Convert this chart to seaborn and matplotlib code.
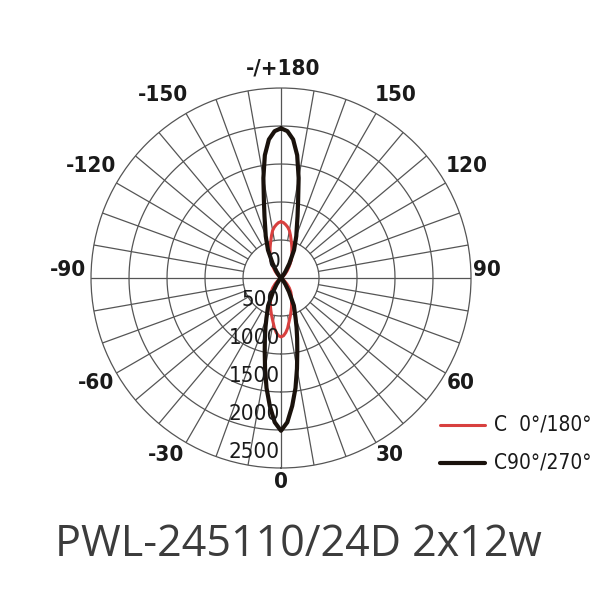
import numpy as np
import pandas as pd
import matplotlib
matplotlib.use('Agg')
import matplotlib.pyplot as plt
from matplotlib.lines import Line2D
import seaborn as sns

# gamma angle (deg) away from the lobe axis
gamma = [0, 2.5, 5, 7.5, 10, 12.5, 15, 17.5, 20, 25, 30, 35, 40, 45, 50, 55, 60]
# lobe around 0 deg (downwards) and around 180 deg (upwards), cd
c0_down = [775, 760, 720, 665, 595, 540, 490, 445, 405, 330, 275, 225, 170, 110, 60, 25, 0]
c0_up = [740, 730, 705, 675, 635, 575, 515, 465, 420, 340, 270, 190, 130, 80, 40, 10, 0]
c90_down = [2010, 1900, 1690, 1460, 1210, 990, 820, 680, 560, 400, 210, 100, 40, 10, 0, 0, 0]
c90_up = [1970, 1934, 1830, 1630, 1336, 1040, 840, 690, 588, 406, 220, 100, 40, 10, 0, 0, 0]

series_names = ['C  0°/180°', 'C90°/270°']
series_colors = ['#d8403f', '#1a120c']
ring_values = [500, 1000, 1500, 2000, 2500]
radial_labels = ['0', '500', '1000', '1500', '2000', '2500']
angle_labels = ['0', '30', '60', '90', '120', '150', '-/+180',
                '-150', '-120', '-90', '-60', '-30']
# label centres, pixels from the pole
angle_label_pos = [(0, -204), (109, -177), (180, -105), (206, 8), (186, 112),
                   (115, 183), (2, 210), (-118, 183), (-190, 112), (-213, 8),
                   (-185, -105), (-115, -177)]
title = 'PWL-245110/24D 2x12w'


def full_curve(down, up):
    # build -180..180 sequence from the two symmetric lobes
    d = {round(g * 2): v for g, v in zip(gamma, down)}
    u = {round(g * 2): v for g, v in zip(gamma, up)}
    angs = sorted({s * g for g in gamma for s in (1, -1)} |
                  {s * (180 - g) for g in gamma for s in (1, -1)})
    vals = []
    for a in angs:
        v = 0
        k_down = round(abs(a) * 2)
        k_up = round((180 - abs(a)) * 2)
        if k_down in d:
            v = max(v, d[k_down])
        if k_up in u:
            v = max(v, u[k_up])
        vals.append(v)
    return angs, vals


rows = []
for name, (dn, up) in zip(series_names, [(c0_down, c0_up), (c90_down, c90_up)]):
    angs, vals = full_curve(dn, up)
    for a, v in zip(angs, vals):
        rows.append({'theta': np.deg2rad(a), 'cd': v, 'series': name})
df = pd.DataFrame(rows)

sns.set_style('white')
narrow = dict(family='DejaVu Sans', stretch='condensed')

fig = plt.figure(figsize=(6, 6), dpi=100)
ax = fig.add_axes([0.1517, 0.22, 0.6333, 0.6333], projection='polar')
ax.set_theta_zero_location('S')
ax.set_theta_direction(1)
ax.set_ylim(0, 2500)
ax.set_xticks([])
ax.set_yticks([])
ax.grid(False)
ax.spines['polar'].set_color('#555555')
ax.spines['polar'].set_linewidth(0.9)

grid_c = '#555555'
circ = np.linspace(0, 2 * np.pi, 361)
for rv in ring_values[:-1]:
    ax.plot(circ, [rv] * len(circ), color=grid_c, lw=0.9, zorder=1)
for deg in range(0, 360, 10):
    r0 = 0 if deg % 90 == 0 else ring_values[0]
    ax.plot([np.deg2rad(deg)] * 2, [r0, 2500], color=grid_c, lw=0.9, zorder=1)

sns.lineplot(data=df, x='theta', y='cd', hue='series', units='series',
             estimator=None, sort=False, palette=series_colors,
             hue_order=series_names, legend=False, ax=ax, zorder=3)
for line, lw in zip(ax.get_lines()[-2:], [2.2, 3.0]):
    line.set_linewidth(lw)
ax.set_xlabel('')
ax.set_ylabel('')

# radial value labels
for i, lab in enumerate(radial_labels):
    ax.annotate(lab, xy=(0, i * 500), xytext=(-1, 16), textcoords='offset pixels',
                ha='right', va='center', fontsize=16, color='#1a1a1a',
                zorder=4, **narrow)

# angle labels
for lab, (dx, dy) in zip(angle_labels, angle_label_pos):
    ax.annotate(lab, xy=(0, 0), xytext=(dx, dy), textcoords='offset pixels',
                ha='center', va='center', fontsize=16, fontweight='bold',
                color='#1a1a1a', annotation_clip=False, **narrow)

# legend
for y, name, col, lw in zip([1 - 425 / 600, 1 - 463 / 600], series_names,
                             series_colors, [2.2, 3.0]):
    fig.add_artist(Line2D([440 / 600, 485 / 600], [y, y], color=col, lw=lw))
    fig.text(494 / 600, y, name, ha='left', va='center', fontsize=15,
             color='#1a1a1a', **narrow)

fig.text(298 / 600, 1 - 545 / 600, title, ha='center', va='center',
         fontsize=31, family=['Open Sans', 'DejaVu Sans'], color='#3c3c3c')

fig.savefig('out.png', dpi=100)
